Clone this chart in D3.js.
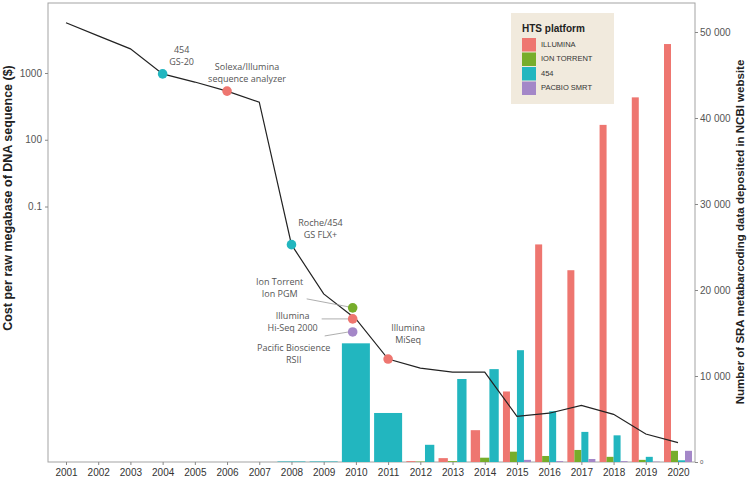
<!DOCTYPE html>
<html><head><meta charset="utf-8">
<script src="https://cdn.jsdelivr.net/npm/d3@7"></script>
<style>body{margin:0;background:#fff}</style>
</head><body><svg id="c" width="756" height="481"></svg>
<script>
// ---------- data ----------
const years = [2001,2002,2003,2004,2005,2006,2007,2008,2009,2010,2011,2012,2013,2014,2015,2016,2017,2018,2019,2020];
const costPerMb = [5650,3600,2300,970,732,536,366,2.68,0.49,0.207,0.0518,0.0379,0.033,0.033,0.0072,0.008,0.0105,0.0077,0.0039,0.0029];
const platforms = ["ILLUMINA","ION TORRENT","454","PACBIO SMRT"];
const illumina = [null,null,null,null,null,null,null,null,null,null,null,100,450,3700,8200,25300,22300,39200,42400,48600];
const ionTorrent = [null,null,null,null,null,null,null,null,null,null,null,50,100,500,1200,700,1400,600,250,1300];
const roche454 = [null,null,null,null,null,null,null,60,60,13800,5700,2000,9650,10800,13000,5900,3500,3100,600,200];
const pacbio = [null,null,null,null,null,null,null,null,null,null,null,null,null,null,250,100,350,100,40,1300];
const leftTickValues = [1000,100,10];
const leftTickLabels = ["1000","100","0.1"];
const rightTickValues = [0,10000,20000,30000,40000,50000];
const rightTickLabels = ["0","10 000","20 000","30 000","40 000","50 000"];
const eventLabels = [["454","GS-20"],["Solexa/Illumina","sequence analyzer"],["Roche/454","GS FLX+"],["Ion Torrent","Ion PGM"],["Illumina","Hi-Seq 2000"],["Pacific Bioscience","RSII"],["Illumina","MiSeq"]];
const eventYears = [2004,2006,2008,2009.9,2009.9,2009.9,2011];
const eventCosts = [970,536,2.68,0.303,0.207,0.132,0.0518];
const eventPlatforms = ["454","ILLUMINA","454","ION TORRENT","ILLUMINA","PACBIO SMRT","ILLUMINA"];

// ---------- styling / layout ----------
const colors = {"ILLUMINA":"#EE7670","ION TORRENT":"#77AD2B","454":"#22B6BF","PACBIO SMRT":"#A487C8"};
const seriesByPlatform = {"ILLUMINA":illumina,"ION TORRENT":ionTorrent,"454":roche454,"PACBIO SMRT":pacbio};
const labelLayout = [
  {dx:19, dy:-23, lead:null},
  {dx:20, dy:-23, lead:null},
  {dx:29, dy:-21, lead:null},
  {dx:-73, dy:-25, lead:[-46,-9,-4,-1]},
  {dx:-60, dy:-2, lead:[-31,0,-4,0]},
  {dx:-59, dy:17, lead:[-28,4,-4,0]},
  {dx:20, dy:-30, lead:null}
];

const svg = d3.select("#c");
const baseY = 462, topY = 3, leftX = 48, rightX = 695;
const x = d3.scaleLinear().domain([2001,2020]).range([66,678]);
const yL = d3.scaleLog().domain([1000,10]).range([73,206.5]);
const yR = d3.scaleLinear().domain([0,50000]).range([baseY,32]);
const groupW = 28;

svg.append("rect").attr("x",leftX).attr("y",topY).attr("width",rightX-leftX).attr("height",baseY-topY)
  .attr("fill","none").attr("stroke","#a3a3a3").attr("stroke-width",1);

const gBars = svg.append("g");
years.forEach((yr,i)=>{
  const present = platforms.filter(p=>seriesByPlatform[p][i]!==null);
  if(!present.length) return;
  const sub = d3.scaleBand().domain(present).range([x(yr)-groupW/2, x(yr)+groupW/2]);
  present.forEach(p=>{
    const v = seriesByPlatform[p][i];
    gBars.append("rect").attr("x",sub(p)).attr("width",sub.bandwidth())
      .attr("y",yR(v)).attr("height",baseY-yR(v)).attr("fill",colors[p]);
  });
});

const fontAxis = "'Liberation Sans', Arial, sans-serif";
const ax = svg.append("g").attr("transform",`translate(0,${baseY})`)
  .call(d3.axisBottom(x).tickValues(years).tickFormat(d3.format("d")).tickSize(3).tickPadding(4));
ax.select(".domain").remove();
ax.selectAll("line").attr("stroke","#888");
ax.selectAll("text").attr("font-family",fontAxis).attr("font-size","10px").attr("fill","#333");

const al = svg.append("g").attr("transform",`translate(${leftX},0)`)
  .call(d3.axisLeft(yL).tickValues(leftTickValues).tickFormat((d,i)=>leftTickLabels[i]).tickSize(3).tickPadding(3));
al.select(".domain").remove();
al.selectAll("line").attr("stroke","#888");
al.selectAll("text").attr("font-family",fontAxis).attr("font-size","10px").attr("fill","#555");

const ar = svg.append("g").attr("transform",`translate(${rightX},0)`)
  .call(d3.axisRight(yR).tickValues(rightTickValues).tickFormat((d,i)=>rightTickLabels[i]).tickSize(3).tickPadding(2));
ar.select(".domain").remove();
ar.selectAll("line").attr("stroke","#888");
ar.selectAll("text").attr("font-family",fontAxis).attr("font-size",d=>d===0?"6px":"10px").attr("fill","#555");

svg.append("text").attr("transform",`translate(12,198) rotate(-90)`).attr("text-anchor","middle")
  .attr("font-family",fontAxis).attr("font-weight","bold").attr("font-size","12.5px").attr("fill","#222")
  .text("Cost per raw megabase of DNA sequence ($)");
svg.append("text").attr("transform",`translate(744,232) rotate(-90)`).attr("text-anchor","middle")
  .attr("font-family",fontAxis).attr("font-weight","bold").attr("font-size","11.5px").attr("fill","#222")
  .text("Number of SRA metabarcoding data deposited in NCBI website");

const line = d3.line().x((d,i)=>x(years[i])).y(d=>yL(d));
svg.append("path").datum(costPerMb).attr("d",line).attr("fill","none").attr("stroke","#222").attr("stroke-width",1.2);

const fontAnn = "'Open Sans', sans-serif";
eventLabels.forEach((lab,i)=>{
  const cx = x(eventYears[i]), cy = yL(eventCosts[i]);
  const L = labelLayout[i];
  if(L.lead){
    svg.append("line").attr("x1",cx+L.lead[0]).attr("y1",cy+L.lead[1]).attr("x2",cx+L.lead[2]).attr("y2",cy+L.lead[3])
      .attr("stroke","#999").attr("stroke-width",0.8);
  }
  svg.append("circle").attr("cx",cx).attr("cy",cy).attr("r",4.8).attr("fill",colors[eventPlatforms[i]]);
  lab.forEach((t,j)=>{
    svg.append("text").attr("x",cx+L.dx).attr("y",cy+L.dy+j*12).attr("text-anchor","middle")
      .attr("dominant-baseline","middle").attr("font-family",fontAnn).attr("font-size","9px").attr("fill","#555").text(t);
  });
});

const lg = svg.append("g");
lg.append("rect").attr("x",511).attr("y",13).attr("width",103).attr("height",91).attr("fill","#F1EADD");
lg.append("text").attr("x",522).attr("y",32).attr("font-family",fontAxis).attr("font-weight","bold")
  .attr("font-size","10px").attr("fill","#222").text("HTS platform");
platforms.forEach((p,i)=>{
  const yy = 38 + i*14.5;
  lg.append("rect").attr("x",522).attr("y",yy).attr("width",14).attr("height",13.5).attr("fill",colors[p]);
  lg.append("text").attr("x",541).attr("y",yy+7).attr("dominant-baseline","middle").attr("font-family",fontAxis)
    .attr("font-size","7.5px").attr("fill","#333").text(p);
});
</script></body></html>
